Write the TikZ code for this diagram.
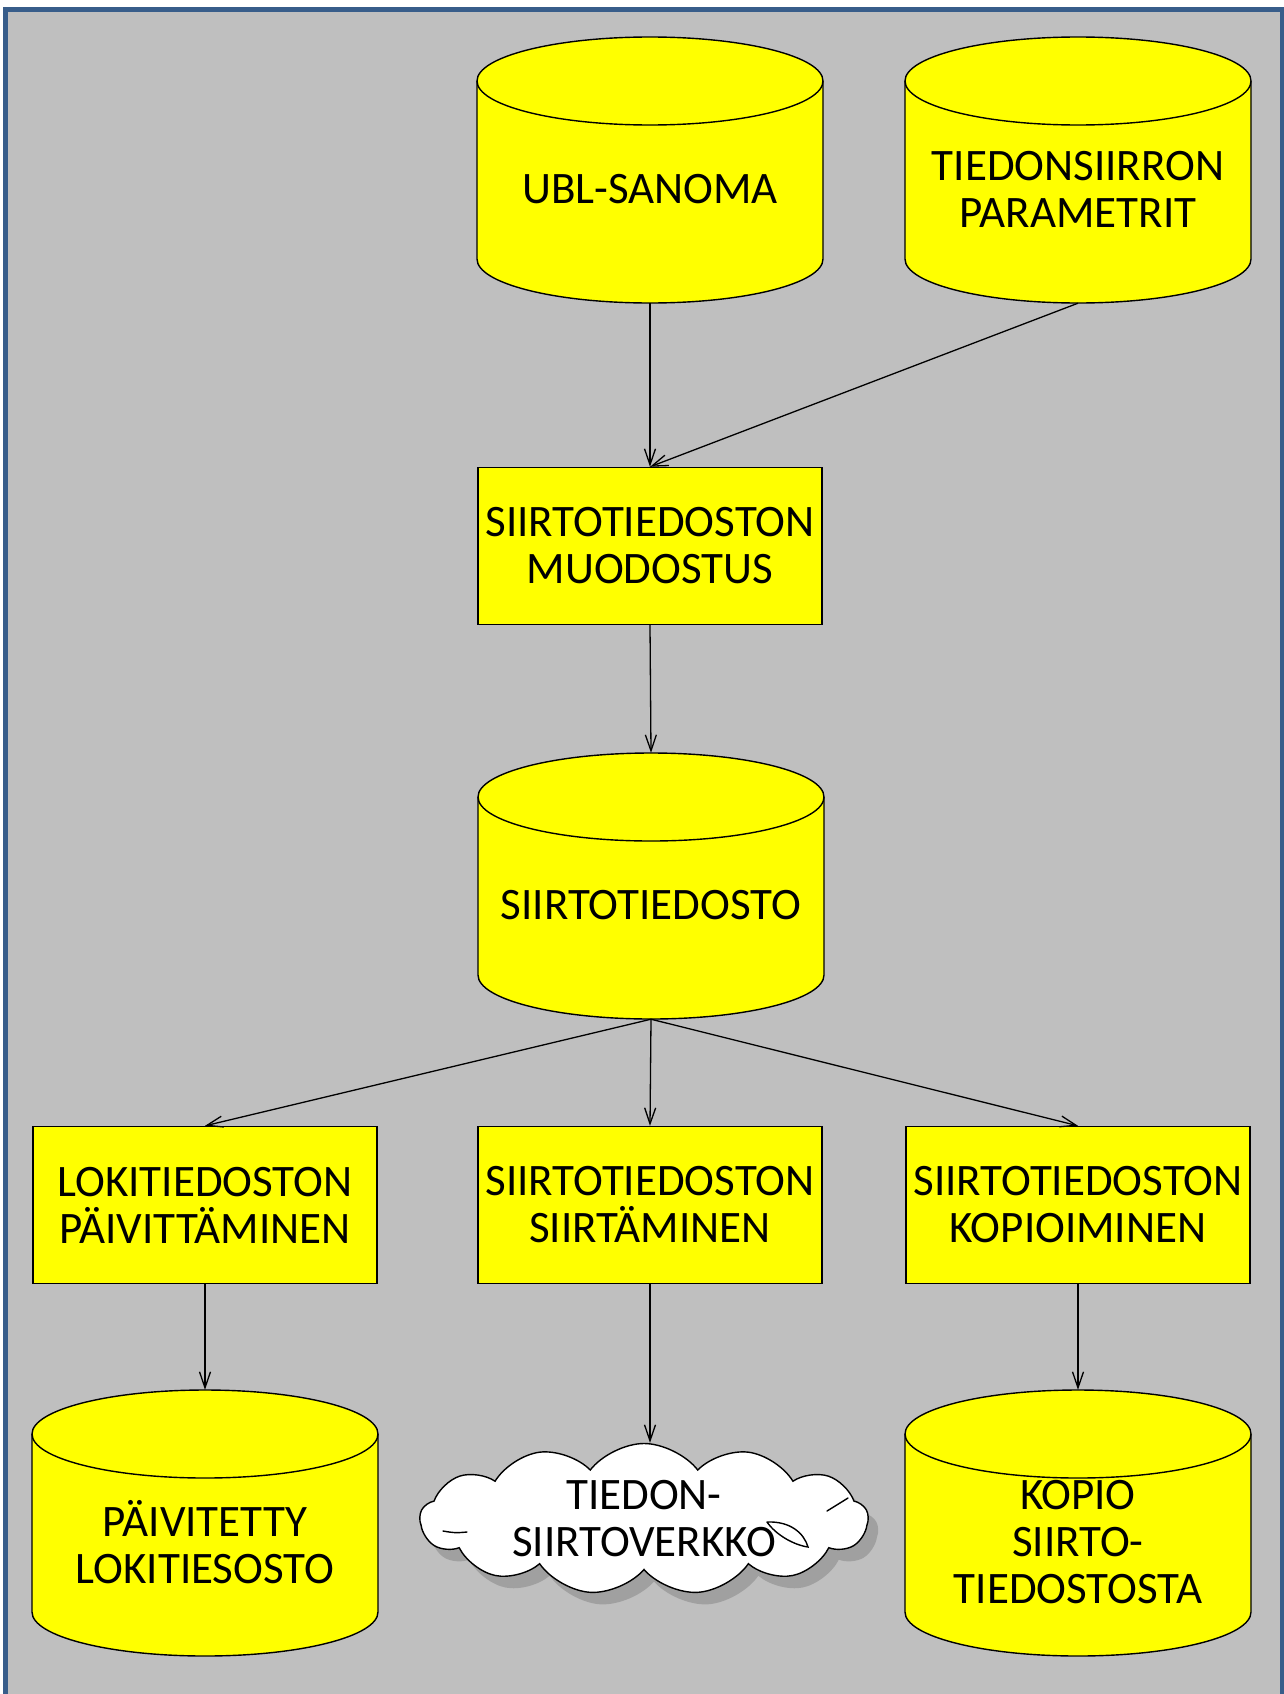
\documentclass[tikz,border=0pt]{standalone}
\usepackage{fontspec}
\setmainfont{Carlito}
\usetikzlibrary{arrows.meta,shapes.symbols,shadows}
\definecolor{framegray}{HTML}{BFBFBF}
\definecolor{frameblue}{HTML}{385D8A}
\definecolor{boxyellow}{HTML}{FFFF00}

% database cylinder: name, centre x, centre y, label
\newcommand\dbcyl[4]{%
  \path[draw, line width=1.4pt, fill=boxyellow]
    (#2-173,#3+89) -- (#2-173,#3-89)
    arc[start angle=180, end angle=360, x radius=173, y radius=44]
    -- (#2+173,#3+89)
    arc[start angle=0, end angle=180, x radius=173, y radius=44] -- cycle;
  \draw[line width=1.4pt] (#2-173,#3+89)
    arc[start angle=180, end angle=360, x radius=173, y radius=44];
  \node[cylarea] (#1) at (#2,#3) {};
  \node[lbl] at (#2,#3-19) {#4};
}

\begin{document}
\begin{tikzpicture}[x=1pt, y=1pt,
  lbl/.style={font=\fontsize{45}{47}\selectfont, align=center, inner sep=0pt},
  procbox/.style={draw, line width=1.4pt, fill=boxyellow, minimum width=344pt,
    minimum height=157pt, inner sep=0pt, align=center,
    font=\fontsize{45}{47}\selectfont},
  cylarea/.style={draw=none, minimum width=346pt, minimum height=266pt, inner sep=0pt},
  flow/.style={line width=1.3pt,
    -{Straight Barb[length=16pt, width=11pt, line width=1.3pt]}},
  puffline/.style={line width=1.4pt, line cap=round}
]
\path[use as bounding box] (0,0) rectangle (1284,-1694);
\fill[white] (0,0) rectangle (1284,-1694);
\draw[frameblue, line width=5pt, fill=framegray] (5.5,-9.5) rectangle (1282,-1720);

% stores
\dbcyl{ubl}{650}{-170}{UBL-SANOMA}
\dbcyl{param}{1078}{-170}{TIEDONSIIRRON\\PARAMETRIT}
\dbcyl{file}{651}{-886}{SIIRTOTIEDOSTO}
\dbcyl{log}{205}{-1523}{PÄIVITETTY\\LOKITIESOSTO}
\dbcyl{copy}{1078}{-1523}{KOPIO\\SIIRTO-\\TIEDOSTOSTA}

% processes
\node[procbox] (build) at (650,-546) {SIIRTOTIEDOSTON\\MUODOSTUS};
\node[procbox] (logupd) at (205,-1205) {LOKITIEDOSTON\\PÄIVITTÄMINEN};
\node[procbox] (send) at (650,-1205) {SIIRTOTIEDOSTON\\SIIRTÄMINEN};
\node[procbox] (copyop) at (1078,-1205) {SIIRTOTIEDOSTON\\KOPIOIMINEN};

% network
\node[cloud, cloud puffs=13, cloud puff arc=105, aspect=3.6, draw, line width=1.4pt,
  fill=white, minimum width=448pt, minimum height=112pt,
  drop shadow={shadow xshift=10pt, shadow yshift=-12pt, fill=black!45, opacity=0.6},
  lbl] (net) at (644,-1519) {TIEDON-\\SIIRTOVERKKO};
% inner puff strokes of the cloud
\draw[puffline] (767,-1522) .. controls (790,-1521) and (804,-1533) .. (808,-1547)
  .. controls (794,-1545) and (776,-1535) .. (767,-1522);
\draw[puffline] (848,-1498) .. controls (840,-1503) .. (827,-1511);
\draw[puffline] (443,-1531) .. controls (455,-1533) .. (467,-1532);

% data flows
\draw[flow] (ubl.south) -- (build.north);
\draw[flow] (param.south) -- (build.north);
\draw[flow] (build.south) -- (file.north);
\draw[flow] (file.south) -- (logupd.north);
\draw[flow] (file.south) -- (send.north);
\draw[flow] (file.south) -- (copyop.north);
\draw[flow] (logupd.south) -- (log.north);
\draw[flow] (send.south) -- (send.south |- net.north);
\draw[flow] (copyop.south) -- (copy.north);
\end{tikzpicture}
\end{document}
